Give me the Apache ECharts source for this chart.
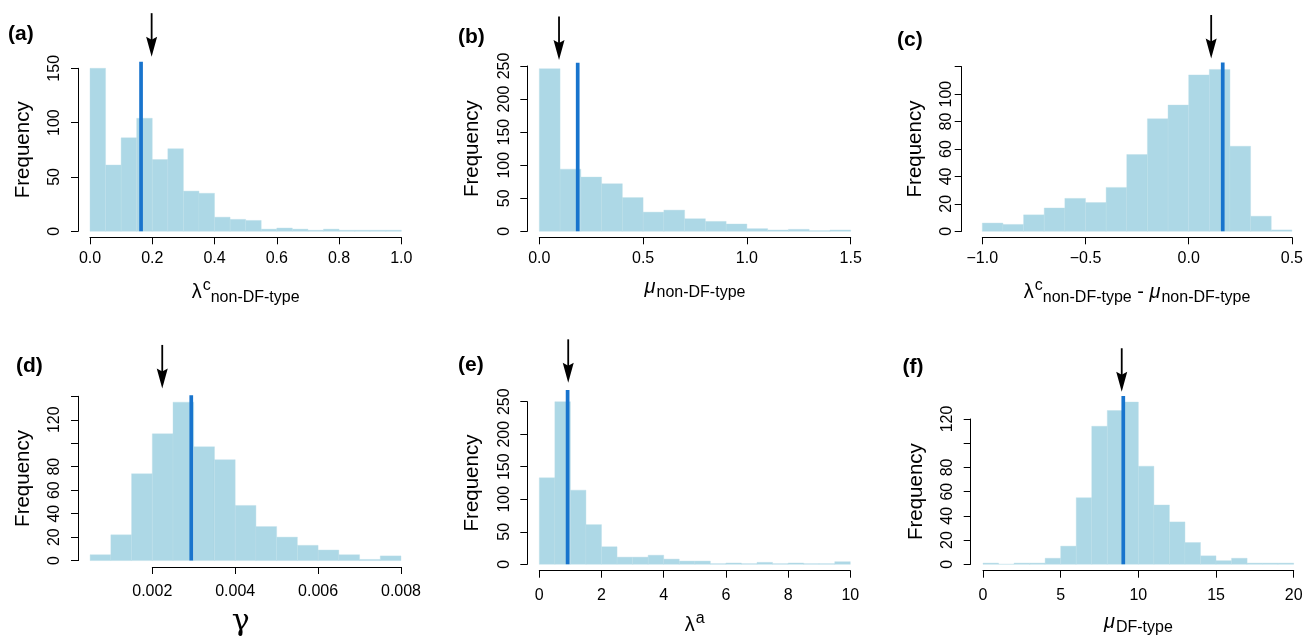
<!DOCTYPE html>
<html>
<head>
<meta charset="utf-8">
<script src="https://cdn.jsdelivr.net/npm/echarts@6/dist/echarts.min.js"></script>
<style>
  html, body { margin: 0; padding: 0; background: #fff; }
  #chart { width: 1306px; height: 638px; }
</style>
</head>
<body>
<div id="chart"></div>
<script>
// histogram counts, one array per panel (bins of equal width)
const aBins = [0, 0.05]          // [first break, bin width]
const aCounts = [150, 61, 86, 104, 66, 76, 37, 35, 13, 11, 10, 2, 3, 2, 1, 2, 1, 1, 1, 1]
const bBins = [0, 0.1]
const bCounts = [246, 94, 82, 72, 51, 29, 32, 19, 15, 11, 4, 2, 3, 1, 2]
const cBins = [-1.0, 0.1]
const cCounts = [6, 5, 12, 17, 24, 21, 32, 56, 82, 92, 114, 118, 62, 11, 1]
const dBins = [0.0005, 0.0005]
const dCounts = [5, 22, 74, 108, 135, 97, 86, 47, 29, 20, 13, 9, 5, 1, 4]
const eBins = [0, 0.5]
const eCounts = [133, 250, 114, 61, 27, 11, 11, 14, 8, 5, 5, 1, 2, 1, 3, 1, 2, 1, 1, 4]
const fBins = [0, 1]
const fCounts = [1, 0, 1, 1, 5, 15, 55, 114, 127, 134, 81, 49, 35, 18, 7, 3, 5, 1, 1, 1]

// blue line: [x value, top of line]
const aLine = [0.164, 156]
const bLine = [0.185, 255]
const cLine = [0.165, 123]
const dLine = [0.00294, 141]
const eLine = [0.91, 268]
const fLine = [9.03, 139]

// arrow: [x value, y value of the tip]
const aArrow = [0.198, 160.7]
const bArrow = [0.095, 259]
const cArrow = [0.109, 126]
const dArrow = [0.00224, 146.7]
const eArrow = [0.93, 279]
const fArrow = [8.93, 142.5]

// axis ticks [min, max, interval] and y labels left blank
const aX = [0, 1, 0.2], aY = [0, 150, 50]
const bX = [0, 1.5, 0.5], bY = [0, 250, 50]
const cX = [-1, 0.5, 0.5], cY = [0, 120, 20]
const dX = [0.002, 0.008, 0.002], dY = [0, 140, 20]
const eX = [0, 10, 2], eY = [0, 250, 50]
const fX = [0, 20, 5], fY = [0, 120, 20]
const cYSkip = [120], dYSkip = [100, 140], fYSkip = [100]

const FONT = 'Liberation Sans'
const BAR = '#ADD8E6'
const LINE = '#1874CD'

const fmt1 = v => v.toFixed(1)
const fmtMinus = v => (v < -1e-9 ? '\u2212' : '') + Math.abs(v).toFixed(1)
const fmt3 = v => v.toFixed(3)
const fmt0 = v => String(Math.round(v))

const rich = {
  b: { fontSize: 20, fontFamily: FONT, color: '#000', verticalAlign: 'bottom', padding: [0, 0, 3, 0] },
  mu: { fontSize: 20, fontFamily: FONT, fontStyle: 'italic', color: '#000', verticalAlign: 'bottom', padding: [0, 1, 3, 0] },
  sup: { fontSize: 16, fontFamily: FONT, color: '#000', verticalAlign: 'bottom', padding: [0, 0, 12, 1] },
  sub: { fontSize: 16, fontFamily: FONT, color: '#000', verticalAlign: 'bottom', padding: [0, 0, 0, 0] },
  g: { fontSize: 30, fontFamily: 'DejaVu Serif', color: '#000' }
}

const panels = [
  { tag: '(a)', tagPos: [8, 35], bins: aBins, counts: aCounts, line: aLine, arrow: aArrow, x: aX, y: aY, skip: [],
    grid: { left: 90, top: 68.3, width: 311.3, height: 163 }, yOff: 12, xOff: 6, fx: fmt1, labM: 13, yLabM: 15, nameGapY: 44,
    name: '{b|λ}{sup|c}{sub|non-DF-type}', namePad: [0, 0, 0, 0], nameGap: 40 },
  { tag: '(b)', tagPos: [458, 37.5], bins: bBins, counts: bCounts, line: bLine, arrow: bArrow, x: bX, y: bY, skip: [],
    grid: { left: 539.3, top: 66, width: 311.4, height: 165.3 }, yOff: 12, xOff: 6, fx: fmt1, labM: 13, yLabM: 15, nameGapY: 44,
    name: '{mu|μ}{sub|non-DF-type}', namePad: [0, 0, 0, 0], nameGap: 40 },
  { tag: '(c)', tagPos: [897, 41], bins: cBins, counts: cCounts, line: cLine, arrow: cArrow, x: cX, y: cY, skip: cYSkip,
    grid: { left: 982.3, top: 66.7, width: 311.7, height: 164.6 }, yOff: 20.6, xOff: 6, fx: fmtMinus, labM: 13, yLabM: 7, nameGapY: 36,
    name: '{b|λ}{sup|c}{sub|non-DF-type}{b| - }{mu|μ}{sub|non-DF-type}', namePad: [0, 0, 0, 0], nameGap: 40 },
  { tag: '(d)', tagPos: [16, 366.7], bins: dBins, counts: dCounts, line: dLine, arrow: dArrow, x: dX, y: dY, skip: dYSkip,
    grid: { left: 152.3, top: 396.3, width: 248.7, height: 168 }, yOff: 74.3, xOff: 6.4, fx: fmt3, labM: 17, yLabM: 15, nameGapY: 44,
    name: '{g|γ}', namePad: [0, 72, 0, 0], nameGap: 40 },
  { tag: '(e)', tagPos: [458, 366], bins: eBins, counts: eCounts, line: eLine, arrow: eArrow, x: eX, y: eY, skip: [],
    grid: { left: 539.3, top: 401.7, width: 311, height: 162.6 }, yOff: 12, xOff: 6.4, fx: fmt0, labM: 17, yLabM: 15, nameGapY: 44,
    name: '{b|λ}{sup|a}', namePad: [0, 0, 0, 0], nameGap: 40 },
  { tag: '(f)', tagPos: [902.5, 367.5], bins: fBins, counts: fCounts, line: fLine, arrow: fArrow, x: fX, y: fY, skip: fYSkip,
    grid: { left: 983, top: 419, width: 310.7, height: 145.3 }, yOff: 12.3, xOff: 6.4, fx: fmt0, labM: 17, yLabM: 15, nameGapY: 44,
    name: '{mu|μ}{sub|DF-type}', namePad: [0, 0, 0, 0], nameGap: 42 }
]

const axisCommon = {
  axisLine: { show: true, onZero: false, lineStyle: { color: '#000', width: 1 } },
  axisTick: { show: true, length: 7, lineStyle: { color: '#000', width: 1 } },
  splitLine: { show: false }
}

const grid = [], xAxis = [], yAxis = [], series = [], graphic = []

panels.forEach((p, i) => {
  grid.push(p.grid)
  xAxis.push({
    ...axisCommon,
    type: 'value', gridIndex: i,
    min: p.x[0], max: p.x[1], interval: p.x[2],
    offset: p.xOff,
    axisLabel: { color: '#000', fontSize: 16, fontFamily: FONT, margin: p.labM, formatter: p.fx },
    name: p.name, nameLocation: 'middle', nameGap: p.nameGap,
    nameTextStyle: { rich, padding: p.namePad, color: '#000' }
  })
  yAxis.push({
    ...axisCommon,
    type: 'value', gridIndex: i,
    min: p.y[0], max: p.y[1], interval: p.y[2],
    offset: p.yOff,
    axisLabel: {
      color: '#000', fontSize: 16, fontFamily: FONT, rotate: 90, margin: p.yLabM,
      formatter: v => (p.skip.includes(Math.round(v)) ? '' : String(Math.round(v)))
    },
    name: 'Frequency', nameLocation: 'middle', nameGap: p.nameGapY, nameRotate: 90,
    nameTextStyle: { color: '#000', fontSize: 20.5, fontFamily: FONT }
  })

  // histogram bars from break + width + count
  const hist = p.counts.map((c, k) => {
    const x0 = p.bins[0] + k * p.bins[1]
    return [x0, x0 + p.bins[1], c]
  })
  series.push({
    type: 'custom', xAxisIndex: i, yAxisIndex: i, clip: false, silent: true,
    encode: { x: [0, 1], y: 2 },
    data: hist,
    renderItem(params, api) {
      const p0 = api.coord([api.value(0), api.value(2)])
      const p1 = api.coord([api.value(1), 0])
      return {
        type: 'rect',
        shape: { x: p0[0], y: p0[1], width: p1[0] - p0[0], height: p1[1] - p0[1] },
        style: { fill: BAR, stroke: '#bcdee9', lineWidth: 0.4 }
      }
    },
    z: 1
  })

  series.push({
    type: 'line', xAxisIndex: i, yAxisIndex: i, clip: false, silent: true,
    symbol: 'none',
    data: [[p.line[0], 0], [p.line[0], p.line[1]]],
    lineStyle: { color: LINE, width: 3.7, cap: 'butt' },
    z: 3
  })

  series.push({
    type: 'custom', xAxisIndex: i, yAxisIndex: i, clip: false, silent: true,
    data: [p.arrow],
    renderItem(params, api) {
      const tip = api.coord([api.value(0), api.value(1)])
      return {
        type: 'group',
        children: [
          { type: 'line', shape: { x1: tip[0], y1: tip[1] - 43.5, x2: tip[0], y2: tip[1] - 16 },
            style: { stroke: '#000', lineWidth: 1.8 } },
          { type: 'polygon', shape: { points: [[tip[0] - 5.5, tip[1] - 20], [tip[0], tip[1] - 17], [tip[0] + 5.5, tip[1] - 20], [tip[0], tip[1]]] },
            style: { fill: '#000' } }
        ]
      }
    },
    z: 4
  })

  graphic.push({
    type: 'text', left: p.tagPos[0], top: p.tagPos[1] - 11,
    style: { text: p.tag, fontSize: 21, fontWeight: 'bold', fontFamily: FONT, fill: '#000' }
  })
})

const chart = echarts.init(document.getElementById('chart'))
chart.setOption({
  animation: false,
  backgroundColor: '#fff',
  grid, xAxis, yAxis, series, graphic
})
</script>
</body>
</html>
